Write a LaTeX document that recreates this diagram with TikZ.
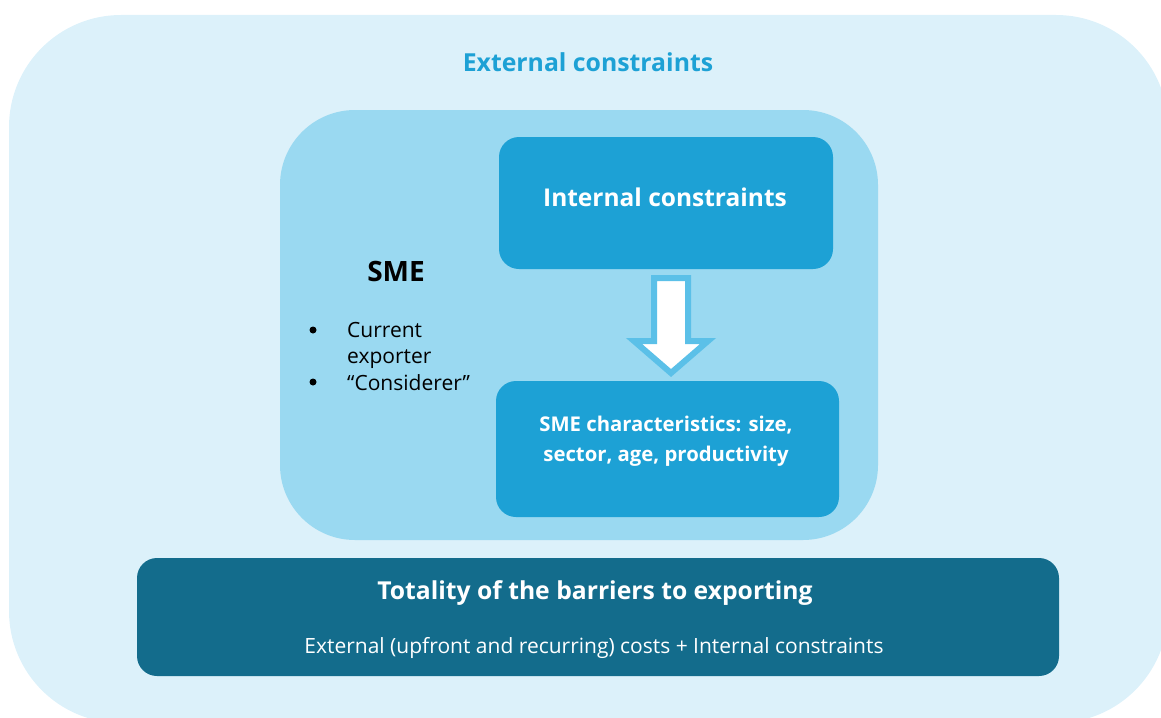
\documentclass[tikz,border=0pt]{standalone}
\usepackage{fontspec}
\setmainfont{Open Sans}
\usetikzlibrary{positioning, calc}
\definecolor{skypale}{HTML}{DCF1FA}
\definecolor{skymid}{HTML}{9AD9F1}
\definecolor{skybox}{HTML}{1DA1D5}
\definecolor{skyedge}{HTML}{5BC0E8}
\definecolor{tealdark}{HTML}{136C8C}

\begin{document}
\begin{tikzpicture}[x=1pt, y=-1pt,
    box/.style={fill=skybox, rounded corners=20pt, inner sep=0pt},
    item/.style={anchor=west, align=left, inner sep=0pt, font=\fontsize{21}{26}\selectfont},
    dot/.style={fill=black, circle, inner sep=0pt, minimum size=7pt}]
  \useasboundingbox (0,0) rectangle (1161,717);
  \clip (0,0) rectangle (1161,717);
  % outer field
  \fill[skypale, rounded corners=112pt] (9,15) rectangle (1168,723);
  \node[text=skybox, font=\fontsize{24.8}{28}\selectfont\bfseries] (ext) at (588,62) {External constraints};
  % sme field
  \node[fill=skymid, rounded corners=75pt, minimum width=598pt, minimum height=430pt] (sme) at (579,325) {};
  \node[font=\fontsize{28}{30}\selectfont\bfseries] (smetitle) at (396,271) {SME};
  \node[dot] (b1) at (313,330) {};
  \node[dot] (b2) at (313,382) {};
  \node[item] (cur) at (347,345) {Current\\exporter};
  \node[item] (cons) at (347,383) {“Considerer”};
  % boxes
  \node[box, minimum width=334pt, minimum height=132pt] (intc) at (666,203) {};
  \node[text=white, font=\fontsize{24.5}{26}\selectfont\bfseries] (intctext) at (665,197) {Internal constraints};
  \node[box, minimum width=343pt, minimum height=136pt] (smec) at (667.5,449) {};
  \node[text=white, align=center, font=\fontsize{20.3}{30}\selectfont\bfseries] (smectext) at (666,441) {SME characteristics: size,\\sector, age, productivity};
  % arrow
  \draw[skyedge, line width=6pt, fill=white, line join=miter]
    (654,278) -- (688,278) -- (688,341) -- (708,341) -- (671,373)
    -- (634,341) -- (654,341) -- cycle;
  % totality
  \node[fill=tealdark, rounded corners=20pt, minimum width=922pt, minimum height=118pt] (tot) at (598,617) {};
  \node[text=white, font=\fontsize{24.7}{28}\selectfont\bfseries] (tottitle) at (595,593) {Totality of the barriers to exporting};
  \node[text=white, font=\fontsize{21}{24}\selectfont] (totsub) at (594,648) {External (upfront and recurring) costs + Internal constraints};
\end{tikzpicture}
\end{document}
